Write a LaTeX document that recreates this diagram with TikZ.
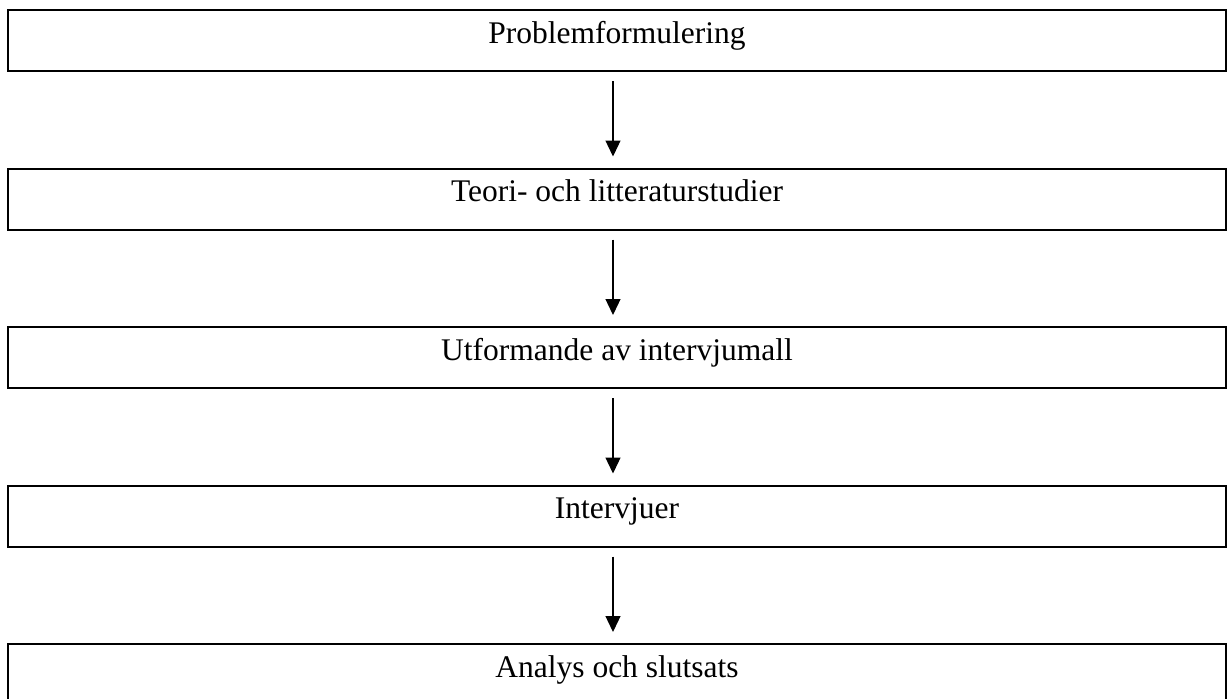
\documentclass[tikz,border=0pt]{standalone}
\usepackage{fontspec}
\setmainfont{Liberation Serif}
\usetikzlibrary{arrows.meta,positioning}

\begin{document}
\begin{tikzpicture}[
    x=1pt, y=1pt,
    node distance=97.5pt,
    all/.style={minimum width=1218pt, minimum height=61pt, inner sep=0pt, outer sep=0pt},
    stage/.style={all, rectangle, draw, line width=2pt,
        font=\fontsize{31.5}{36}\selectfont, text height=25pt, text depth=20pt},
    flow/.style={line width=1.3pt, -{Triangle[width=15pt,length=16pt]}},
]
    \useasboundingbox (0,0) rectangle (1227,-699);
    \node [stage] (problem) at (617,-40.5) {Problemformulering};
    \node [stage, below=of problem] (teori) {Teori- och litteraturstudier};
    \node [stage, below=of teori] (mall) {Utformande av intervjumall};
    \node [stage, below=of mall] (intervju) {Intervjuer};
    \node [stage, below=of intervju] (analys) {Analys och slutsats};
    % arrows between the stages
    \draw [flow] ([xshift=-4pt,yshift=-10pt]problem.south) -- ([xshift=-4pt,yshift=12pt]teori.north);
    \draw [flow] ([xshift=-4pt,yshift=-10pt]teori.south) -- ([xshift=-4pt,yshift=12pt]mall.north);
    \draw [flow] ([xshift=-4pt,yshift=-10pt]mall.south) -- ([xshift=-4pt,yshift=12pt]intervju.north);
    \draw [flow] ([xshift=-4pt,yshift=-10pt]intervju.south) -- ([xshift=-4pt,yshift=12pt]analys.north);
\end{tikzpicture}
\end{document}
